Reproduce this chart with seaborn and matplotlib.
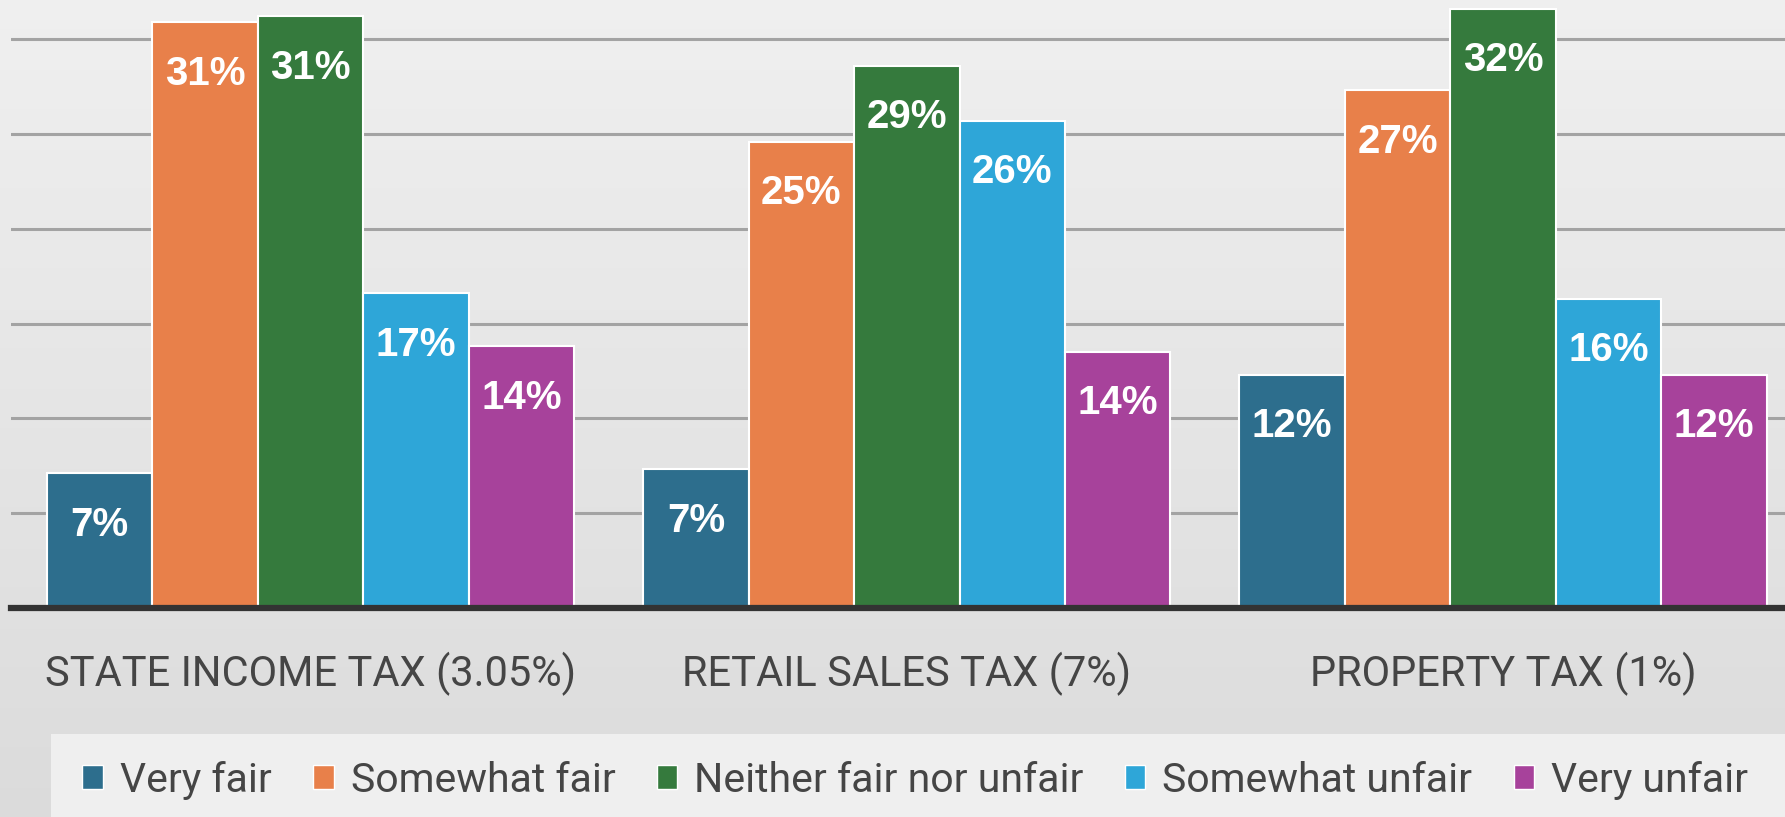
import numpy as np
import pandas as pd
import matplotlib.pyplot as plt
import seaborn as sns
from matplotlib.patches import Patch, Rectangle

taxes = ["STATE INCOME TAX (3.05%)", "RETAIL SALES TAX (7%)", "PROPERTY TAX (1%)"]
ratings = ["Very fair", "Somewhat fair", "Neither fair nor unfair",
           "Somewhat unfair", "Very unfair"]
very_fair = [7.1, 7.3, 12.3]
somewhat_fair = [30.9, 24.6, 27.3]
neither = [31.2, 28.6, 31.6]
somewhat_unfair = [16.6, 25.7, 16.3]
very_unfair = [13.8, 13.5, 12.3]
colors = ["#2d6e8d", "#e8804a", "#357a3d", "#2ea6d8", "#a7429b"]

series = [very_fair, somewhat_fair, neither, somewhat_unfair, very_unfair]
rows = []
for rating, vals in zip(ratings, series):
    for tax, v in zip(taxes, vals):
        rows.append({"tax": tax, "rating": rating, "value": v})
df = pd.DataFrame(rows)

sns.set_theme(style="white")
plt.rcParams['font.family'] = ['Roboto', 'DejaVu Sans']

fig = plt.figure(figsize=(17.85, 8.17), dpi=100)

# soft grey backdrop
bg = fig.add_axes([0, 0, 1, 1], zorder=-10)
grad = np.linspace(0.94, 0.86, 256).reshape(-1, 1)
bg.imshow(np.dstack([grad, grad, grad]), aspect="auto", extent=[0, 1, 0, 1])
bg.axis("off")

# legend panel
fig.patches.append(Rectangle((51 / 1785, 0), 1, 83 / 817, transform=fig.transFigure,
                             facecolor="#efefef", edgecolor="none", zorder=-5))

ax = fig.add_axes([0.006, 0.256, 0.994, 0.744])
ax.set_facecolor("none")
sns.barplot(data=df, x="tax", y="value", hue="rating", hue_order=ratings,
            order=taxes, palette=colors, width=0.884, edgecolor="white",
            linewidth=1.5, saturation=1, legend=False, ax=ax, zorder=3)

ax.set_ylim(0, 32.07)
ax.set_xlim(-0.503, 2.473)
ax.set_yticks([5, 10, 15, 20, 25, 30])
ax.yaxis.grid(True, color="#a3a3a3", linewidth=2.2, zorder=0)
ax.set_axisbelow(True)
ax.tick_params(axis="y", left=False, labelleft=False)
ax.tick_params(axis="x", bottom=False, pad=26, labelsize=30, labelcolor="#454545")
ax.set_xlabel("")
ax.set_ylabel("")
for s in ["top", "right", "left"]:
    ax.spines[s].set_visible(False)
ax.spines["bottom"].set_color("#333333")
ax.spines["bottom"].set_linewidth(4.5)
ax.spines["bottom"].set_zorder(5)

for p in ax.patches:
    h = p.get_height()
    if np.isnan(h) or h == 0:
        continue
    ax.annotate(f"{h:.0f}%", (p.get_x() + p.get_width() / 2, h),
                xytext=(0, -37), textcoords="offset points",
                ha="center", va="center", color="white",
                fontsize=29, fontweight="bold",
                family=["Liberation Sans", "DejaVu Sans"], zorder=6)

handles = [Patch(facecolor=c, edgecolor="white", linewidth=1) for c in colors]
leg = fig.legend(handles, ratings, loc="center left", ncol=5,
                 bbox_to_anchor=(62 / 1785, 1 - 780 / 817),
                 frameon=False, fontsize=29.5, borderpad=0,
                 handlelength=0.5, handleheight=0.55, handletextpad=0.42,
                 columnspacing=1.0)
for t in leg.get_texts():
    t.set_color("#454545")

fig.savefig("out.png", dpi=100)
